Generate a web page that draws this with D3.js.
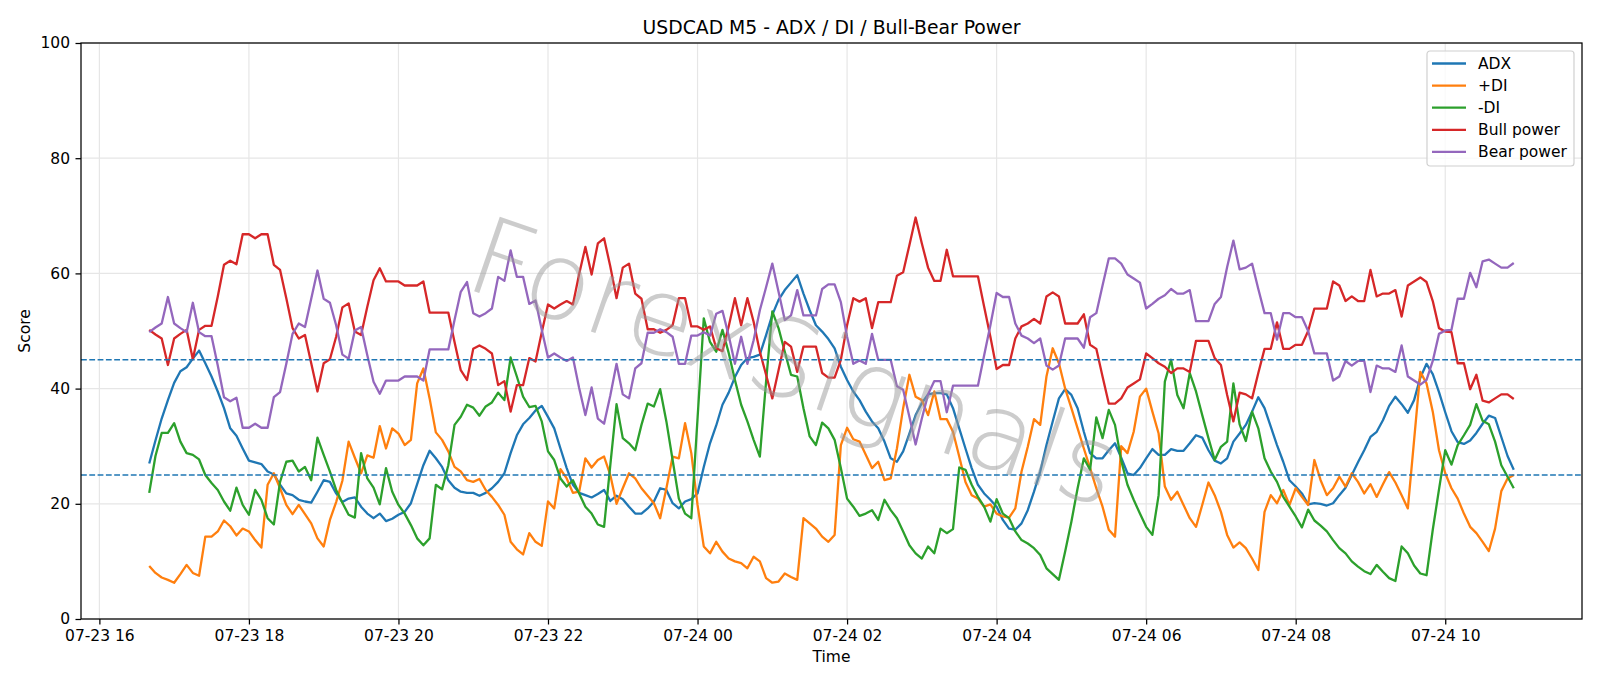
<!DOCTYPE html>
<html>
<head>
<meta charset="utf-8">
<script src="https://cdn.jsdelivr.net/npm/d3@7"></script>
<style>
body { margin: 0; background: #fff; }
text { font-family: "DejaVu Sans", sans-serif; }
</style>
</head>
<body>
<div id="chart"></div>
<script>
// values, one point every 5 minutes from 07-23 16:40
const adx = [27.0, 31.0, 34.8, 38.0, 41.0, 43.0, 43.7, 45.2, 46.6, 44.4,
    42.1, 39.5, 36.6, 33.1, 31.8, 29.6, 27.5, 27.2, 26.9, 25.6,
    25.1, 23.3, 21.8, 21.5, 20.7, 20.4, 20.2, 22.1, 24.1, 23.8,
    21.8, 20.3, 20.9, 21.1, 19.5, 18.3, 17.5, 18.3, 17.0, 17.4,
    18.1, 18.6, 20.1, 23.4, 26.7, 29.2, 27.9, 26.4, 24.1, 22.8,
    22.1, 21.9, 21.9, 21.4, 21.9, 22.7, 23.8, 25.3, 28.8, 31.9,
    33.8, 34.9, 36.2, 37.0, 35.1, 33.1, 29.6, 26.2, 23.3, 21.9,
    21.5, 21.1, 21.7, 22.4, 20.5, 21.4, 20.8, 19.5, 18.3, 18.3,
    19.2, 20.4, 22.7, 22.4, 20.1, 19.2, 20.4, 20.8, 21.8, 26.4,
    30.5, 33.6, 37.2, 39.3, 42.0, 44.1, 45.3, 45.5, 45.9, 49.3,
    52.8, 55.4, 57.1, 58.4, 59.7, 56.5, 53.6, 51.0, 49.9, 48.6,
    47.0, 43.8, 41.5, 39.5, 38.0, 36.0, 34.3, 33.1, 30.8, 27.9,
    27.3, 29.1, 32.2, 35.4, 37.5, 39.0, 39.2, 39.2, 39.0, 36.6,
    33.1, 29.6, 26.2, 23.3, 21.8, 20.7, 19.5, 17.2, 15.7, 15.5,
    16.6, 18.9, 22.1, 25.6, 30.2, 34.3, 38.3, 39.9, 38.9, 36.6,
    32.5, 28.8, 27.9, 27.9, 29.3, 30.5, 28.0, 25.3, 25.0, 26.2,
    27.9, 29.5, 28.5, 28.5, 29.5, 29.2, 29.2, 30.5, 31.9, 31.5,
    29.3, 27.5, 27.0, 27.9, 30.8, 32.2, 33.7, 36.0, 38.5, 36.6,
    33.4, 30.2, 27.3, 24.1, 23.0, 21.8, 19.9, 20.1, 20.0, 19.7,
    20.1, 21.5, 22.8, 25.0, 27.2, 29.3, 31.6, 32.5, 34.5, 37.0,
    38.6, 37.3, 35.8, 38.0, 41.9, 44.3, 42.5, 39.4, 35.9, 32.6,
    30.7, 30.4, 31.0, 32.3, 33.9, 35.3, 34.9, 31.6, 28.3, 25.9];

const plusDI = [9.2, 8.0, 7.2, 6.8, 6.3, 7.8, 9.4, 8.0, 7.5, 14.3,
    14.3, 15.2, 17.1, 16.1, 14.5, 15.7, 15.2, 13.7, 12.4, 23.3,
    25.3, 22.7, 19.8, 18.2, 19.8, 18.2, 16.6, 14.0, 12.6, 17.2,
    20.3, 24.0, 30.8, 28.0, 25.3, 28.4, 28.0, 33.5, 29.6, 33.1,
    32.2, 30.2, 31.1, 40.9, 43.5, 38.3, 32.4, 31.1, 29.1, 26.4,
    25.6, 24.1, 23.8, 24.3, 22.4, 21.2, 19.8, 18.1, 13.4, 12.1,
    11.2, 14.9, 13.4, 12.7, 20.4, 19.2, 26.0, 24.4, 21.9, 22.1,
    27.9, 26.3, 27.6, 28.2, 25.0, 20.0, 22.7, 25.3, 24.4, 22.7,
    21.4, 20.1, 17.5, 22.7, 28.2, 27.9, 34.0, 28.8, 19.8, 12.6,
    11.4, 13.4, 11.7, 10.5, 10.0, 9.7, 8.8, 10.8, 10.0, 7.1,
    6.3, 6.5, 7.9, 7.3, 6.8, 17.5, 16.6, 15.7, 14.3, 13.4,
    14.6, 30.2, 33.2, 31.2, 30.8, 28.5, 26.2, 27.3, 24.1, 24.4,
    29.6, 36.6, 42.4, 38.6, 38.0, 35.4, 39.5, 34.7, 34.7, 32.5,
    28.2, 23.8, 21.5, 20.9, 19.5, 19.9, 18.3, 17.8, 17.6, 19.2,
    25.6, 29.9, 34.7, 33.7, 42.1, 47.0, 44.4, 40.0, 36.6, 33.1,
    29.6, 26.2, 22.7, 19.5, 15.5, 14.3, 30.0, 28.8, 32.5, 38.6,
    40.0, 36.0, 32.2, 23.0, 20.7, 22.1, 19.8, 17.5, 16.0, 19.8,
    23.7, 21.5, 18.6, 14.6, 12.4, 13.3, 12.3, 10.5, 8.5, 18.6,
    21.5, 20.1, 22.4, 19.8, 22.7, 21.2, 19.8, 27.6, 24.1, 21.5,
    22.7, 24.7, 23.0, 25.3, 23.8, 21.8, 23.4, 21.2, 23.4, 25.5,
    23.7, 21.5, 19.2, 31.0, 42.9, 40.9, 36.0, 29.3, 25.3, 22.7,
    20.9, 18.3, 16.0, 14.9, 13.4, 11.8, 15.7, 22.2, 24.4, 25.0];

const minusDI = [21.9, 28.3, 32.3, 32.3, 34.0, 30.8, 28.8, 28.5, 27.7, 25.0,
    23.6, 22.4, 20.4, 18.8, 22.8, 19.8, 18.1, 22.4, 20.7, 17.5,
    16.4, 23.8, 27.3, 27.5, 25.6, 26.4, 24.1, 31.5, 28.5, 25.6,
    22.4, 20.2, 18.1, 17.6, 28.8, 24.4, 22.8, 19.9, 26.2, 22.1,
    19.8, 18.3, 16.3, 14.0, 12.8, 14.0, 23.3, 22.5, 26.7, 33.7,
    35.1, 37.2, 36.7, 35.3, 36.9, 37.6, 39.3, 38.0, 45.4, 42.1,
    38.6, 36.8, 37.0, 34.3, 29.1, 27.6, 24.4, 23.0, 24.1, 21.8,
    19.5, 18.3, 16.4, 16.0, 26.7, 37.3, 31.4, 30.5, 29.3, 33.7,
    37.4, 36.9, 39.9, 34.3, 27.6, 20.9, 18.3, 17.5, 34.8, 52.2,
    48.1, 46.4, 50.2, 46.2, 41.5, 37.2, 34.3, 31.1, 28.2, 41.2,
    53.4, 50.5, 46.4, 42.4, 42.1, 36.6, 31.7, 30.2, 34.1, 33.1,
    31.1, 26.2, 20.9, 19.5, 17.9, 18.3, 18.9, 17.2, 20.7, 18.9,
    17.5, 15.2, 12.8, 11.4, 10.5, 12.6, 11.4, 15.7, 14.9, 15.6,
    26.3, 25.9, 23.3, 21.2, 19.5, 16.9, 20.8, 18.3, 17.5, 15.2,
    13.7, 13.1, 12.3, 11.1, 8.8, 7.8, 6.8, 11.7, 16.9, 22.7,
    27.9, 25.9, 35.0, 31.4, 36.3, 33.7, 27.5, 23.3, 20.7, 18.3,
    16.0, 14.6, 21.5, 41.2, 45.0, 38.9, 36.6, 42.7, 39.5, 35.4,
    31.4, 27.6, 29.9, 30.8, 40.9, 33.8, 30.9, 36.0, 33.1, 27.9,
    25.6, 23.8, 21.2, 19.5, 17.8, 15.9, 19.0, 17.1, 16.2, 15.2,
    13.7, 12.3, 11.4, 10.0, 9.1, 8.3, 7.8, 9.4, 8.2, 7.1,
    6.6, 12.6, 11.4, 9.3, 7.9, 7.6, 15.5, 22.5, 29.3, 26.8,
    30.2, 31.9, 33.7, 37.3, 34.4, 33.8, 30.8, 26.7, 24.7, 22.7];

const bullPower = [50.2, 49.4, 48.7, 44.1, 48.7, 49.5, 50.2, 45.1, 50.2, 50.9,
    50.9, 56.0, 61.5, 62.2, 61.6, 66.8, 66.8, 66.1, 66.8, 66.8,
    61.5, 60.6, 55.7, 50.5, 48.7, 49.3, 44.4, 39.5, 44.4, 45.1,
    49.0, 54.1, 54.8, 49.9, 49.3, 54.2, 58.8, 60.9, 58.6, 58.6,
    58.6, 57.9, 57.9, 57.9, 58.6, 53.2, 53.2, 53.2, 53.2, 48.1,
    43.2, 41.5, 46.9, 47.5, 46.9, 46.1, 40.6, 41.3, 36.0, 40.6,
    40.6, 45.3, 44.7, 49.8, 54.6, 53.9, 54.6, 55.2, 54.6, 59.9,
    64.6, 59.8, 65.2, 66.1, 61.2, 55.7, 61.0, 61.7, 56.5, 55.6,
    50.3, 50.3, 49.7, 50.2, 51.0, 55.7, 55.7, 50.8, 50.8, 50.2,
    50.8, 47.0, 46.5, 50.8, 55.7, 51.0, 55.7, 51.6, 46.4, 42.4,
    38.3, 43.2, 48.1, 47.3, 42.9, 47.3, 47.3, 47.3, 42.7, 41.9,
    41.9, 45.0, 51.0, 55.7, 55.1, 55.7, 50.5, 55.0, 55.0, 55.0,
    59.6, 60.2, 64.9, 69.7, 65.2, 61.0, 58.7, 58.7, 64.1, 59.5,
    59.5, 59.5, 59.5, 59.5, 54.2, 49.0, 43.4, 44.1, 44.1, 48.7,
    50.8, 51.3, 52.1, 51.3, 56.0, 56.7, 56.0, 51.3, 51.3, 51.3,
    52.9, 47.6, 46.9, 42.1, 37.4, 37.4, 38.3, 40.2, 40.9, 41.6,
    46.1, 45.3, 44.4, 43.8, 42.7, 43.5, 43.5, 42.9, 48.3, 48.3,
    48.3, 45.3, 44.1, 38.9, 34.3, 39.3, 39.0, 38.3, 42.7, 46.9,
    46.9, 51.5, 46.9, 46.9, 47.6, 47.6, 50.0, 53.9, 53.9, 53.9,
    58.6, 57.9, 55.2, 56.0, 55.2, 55.2, 60.6, 56.0, 56.5, 56.5,
    57.1, 52.5, 57.9, 58.6, 59.3, 58.5, 55.2, 50.5, 49.9, 49.8,
    44.4, 44.4, 39.9, 42.4, 37.9, 37.6, 38.3, 39.0, 39.0, 38.2];

const bearPower = [49.8, 50.6, 51.3, 55.9, 51.3, 50.5, 49.8, 54.9, 49.8, 49.1,
    49.1, 44.0, 38.5, 37.8, 38.4, 33.2, 33.2, 33.9, 33.2, 33.2,
    38.5, 39.4, 44.3, 49.5, 51.3, 50.7, 55.6, 60.5, 55.6, 54.9,
    51.0, 45.9, 45.2, 50.1, 50.7, 45.8, 41.2, 39.1, 41.4, 41.4,
    41.4, 42.1, 42.1, 42.1, 41.4, 46.8, 46.8, 46.8, 46.8, 51.9,
    56.8, 58.5, 53.1, 52.5, 53.1, 53.9, 59.4, 58.7, 64.0, 59.4,
    59.4, 54.7, 55.3, 50.2, 45.4, 46.1, 45.4, 44.8, 45.4, 40.1,
    35.4, 40.2, 34.8, 33.9, 38.8, 44.3, 39.0, 38.3, 43.5, 44.4,
    49.7, 49.7, 50.3, 49.8, 49.0, 44.3, 44.3, 49.2, 49.2, 49.8,
    49.2, 53.0, 53.5, 49.2, 44.3, 49.0, 44.3, 48.4, 53.6, 57.6,
    61.7, 56.8, 51.9, 52.7, 57.1, 52.7, 52.7, 52.7, 57.3, 58.1,
    58.1, 55.0, 49.0, 44.3, 44.9, 44.3, 49.5, 45.0, 45.0, 45.0,
    40.4, 39.8, 35.1, 30.3, 34.8, 39.0, 41.3, 41.3, 35.9, 40.5,
    40.5, 40.5, 40.5, 40.5, 45.8, 51.0, 56.6, 55.9, 55.9, 51.3,
    49.2, 48.7, 47.9, 48.7, 44.0, 43.3, 44.0, 48.7, 48.7, 48.7,
    47.1, 52.4, 53.1, 57.9, 62.6, 62.6, 61.7, 59.8, 59.1, 58.4,
    53.9, 54.7, 55.6, 56.2, 57.3, 56.5, 56.5, 57.1, 51.7, 51.7,
    51.7, 54.7, 55.9, 61.1, 65.7, 60.7, 61.0, 61.7, 57.3, 53.1,
    53.1, 48.5, 53.1, 53.1, 52.4, 52.4, 50.0, 46.1, 46.1, 46.1,
    41.4, 42.1, 44.8, 44.0, 44.8, 44.8, 39.4, 44.0, 43.5, 43.5,
    42.9, 47.5, 42.1, 41.4, 40.7, 41.5, 44.8, 49.5, 50.1, 50.2,
    55.6, 55.6, 60.1, 57.6, 62.1, 62.4, 61.7, 61.0, 61.0, 61.8];

const seriesNames = ["ADX", "+DI", "-DI", "Bull power", "Bear power"];
const seriesColors = ["#1f77b4", "#ff7f0e", "#2ca02c", "#d62728", "#9467bd"];
const refLevels = [45, 25];
const yTickValues = [0, 20, 40, 60, 80, 100];

var width = 1600;
var height = 686;
var plot = { left: 81, right: 1582, top: 43, bottom: 619 };

var svg = d3.select("#chart")
    .append("svg")
    .attr("width", width)
    .attr("height", height)
    .style("background", "#fff");

var startTime = new Date(2024, 6, 23, 16, 40);
var times = adx.map((d, i) => new Date(startTime.getTime() + i * 5 * 60000));
var span = times[times.length - 1] - times[0];

var x = d3.scaleTime()
    .domain([new Date(+times[0] - 0.05 * span), new Date(+times[times.length - 1] + 0.05 * span)])
    .range([plot.left, plot.right]);

var y = d3.scaleLinear()
    .domain([0, 100])
    .range([plot.bottom, plot.top]);

var xTicks = x.ticks(d3.timeHour.every(2));

// grid
var grid = svg.append("g").attr("class", "grid");
grid.selectAll(".vgrid")
    .data(xTicks)
    .enter().append("line")
    .attr("x1", d => x(d)).attr("x2", d => x(d))
    .attr("y1", plot.top).attr("y2", plot.bottom)
    .attr("stroke", "#e6e6e6").attr("stroke-width", 1.2);
grid.selectAll(".hgrid")
    .data(yTickValues)
    .enter().append("line")
    .attr("x1", plot.left).attr("x2", plot.right)
    .attr("y1", d => y(d)).attr("y2", d => y(d))
    .attr("stroke", "#e6e6e6").attr("stroke-width", 1.2);

// series
var allSeries = [adx, plusDI, minusDI, bullPower, bearPower];
var line = d3.line()
    .x((d, i) => x(times[i]))
    .y(d => y(d));

svg.append("g").selectAll("path")
    .data(allSeries)
    .enter().append("path")
    .attr("d", d => line(d))
    .attr("fill", "none")
    .attr("stroke", (d, i) => seriesColors[i])
    .attr("stroke-width", 2.3)
    .attr("stroke-linejoin", "round");

// reference levels
svg.append("g").selectAll("line")
    .data(refLevels)
    .enter().append("line")
    .attr("x1", plot.left).attr("x2", plot.right)
    .attr("y1", d => y(d)).attr("y2", d => y(d))
    .attr("stroke", "#1f77b4")
    .attr("stroke-width", 1.5)
    .attr("stroke-dasharray", "5.8,2.5");

// watermark
svg.append("text")
    .attr("transform", "translate(795,362) rotate(19)")
    .attr("text-anchor", "middle")
    .attr("dominant-baseline", "central")
    .attr("font-size", 108)
    .style("font-family", "'DejaVu Sans ExtraLight', 'DejaVu Sans'")
    .style("font-weight", 200)
    .attr("fill", "#9a9a9a")
    .attr("fill-opacity", 0.5)
    .text("ForexSignals");

// axes
var xAxis = svg.append("g")
    .attr("transform", `translate(0,${plot.bottom})`)
    .call(d3.axisBottom(x).tickValues(xTicks)
        .tickFormat(d3.timeFormat("%m-%d %H"))
        .tickSize(5.5).tickPadding(5.5).tickSizeOuter(0));

var yAxis = svg.append("g")
    .attr("transform", `translate(${plot.left},0)`)
    .call(d3.axisLeft(y).tickValues(yTickValues)
        .tickSize(5.5).tickPadding(5.5).tickSizeOuter(0));

[xAxis, yAxis].forEach(function (g) {
    g.select(".domain").remove();
    g.selectAll(".tick line").attr("stroke", "#000").attr("stroke-width", 1.25);
    g.selectAll(".tick text")
        .attr("fill", "#000")
        .style("font-size", "15.5px")
        .style("font-family", "DejaVu Sans");
});

svg.append("rect")
    .attr("x", plot.left).attr("y", plot.top)
    .attr("width", plot.right - plot.left)
    .attr("height", plot.bottom - plot.top)
    .attr("fill", "none")
    .attr("stroke", "#000")
    .attr("stroke-width", 1.25);

// labels
svg.append("text")
    .attr("x", (plot.left + plot.right) / 2)
    .attr("y", 33.5)
    .attr("text-anchor", "middle")
    .style("font-size", "18.8px")
    .text("USDCAD M5 - ADX / DI / Bull-Bear Power");

svg.append("text")
    .attr("x", (plot.left + plot.right) / 2)
    .attr("y", 662)
    .attr("text-anchor", "middle")
    .style("font-size", "15.5px")
    .text("Time");

svg.append("text")
    .attr("transform", `translate(30,${(plot.top + plot.bottom) / 2}) rotate(-90)`)
    .attr("text-anchor", "middle")
    .style("font-size", "15.5px")
    .text("Score");

// legend
var legend = svg.append("g").attr("transform", "translate(1427,51)");
legend.append("rect")
    .attr("width", 147).attr("height", 115)
    .attr("rx", 3)
    .attr("fill", "#fff").attr("fill-opacity", 0.8)
    .attr("stroke", "#d0d0d0").attr("stroke-width", 1.2);

var items = legend.selectAll(".item")
    .data(seriesNames)
    .enter().append("g")
    .attr("transform", (d, i) => `translate(0,${12.5 + i * 22.1})`);
items.append("line")
    .attr("x1", 5).attr("x2", 39)
    .attr("stroke", (d, i) => seriesColors[i])
    .attr("stroke-width", 2.3);
items.append("text")
    .attr("x", 51)
    .attr("dy", "0.36em")
    .style("font-size", "15.5px")
    .text(d => d);
</script>
</body>
</html>
